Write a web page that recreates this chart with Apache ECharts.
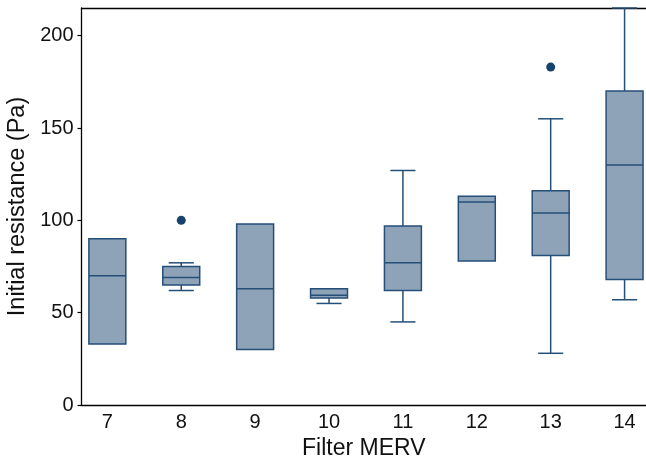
<!DOCTYPE html>
<html>
<head>
<meta charset="utf-8">
<script src="https://cdn.jsdelivr.net/npm/echarts@6/dist/echarts.min.js"></script>
<style>html,body{margin:0;padding:0;background:#fff;}#c{width:646px;height:460px;}</style>
</head>
<body>
<div id="c"></div>
<script>
var categories = [7, 8, 9, 10, 11, 12, 13, 14];
var mins    = [33, 62, 30, 55, 45, 78, 28, 57];
var q1s     = [33, 65, 30, 58, 62, 78, 81, 68];
var medians = [70, 69, 63, 59.5, 77, 110, 104, 130];
var q3s     = [90, 75, 98, 63, 97, 113, 116, 170];
var maxs    = [90, 77, 98, 63, 127, 113, 155, 215];
var outlierX = [8, 13];
var outlierY = [100, 183];
var yTicks = [0, 50, 100, 150, 200];

var boxData = categories.map(function (c, i) {
  return [c, mins[i], q1s[i], medians[i], q3s[i], maxs[i]];
});
var outData = outlierX.map(function (x, i) { return [x, outlierY[i]]; });

var stroke = '#264f78';
var fill = '#8ea3b8';
var font = 'Liberation Sans, Arial, Helvetica, sans-serif';

var chart = echarts.init(document.getElementById('c'));
chart.setOption({
  animation: false,
  grid: { left: 81.5, right: 0, top: 8, bottom: 55, containLabel: false, outerBoundsMode: 'none' },
  xAxis: [{
    type: 'value', min: 6.65, max: 14.29,
    name: 'Filter MERV', nameLocation: 'middle', nameGap: 32,
    nameTextStyle: { fontFamily: font, fontSize: 23, color: '#111' },
    axisLine: { show: true, onZero: false, lineStyle: { color: '#000', width: 1.3 } },
    axisTick: { show: false },
    splitLine: { show: false },
    axisLabel: { customValues: categories, fontFamily: font, fontSize: 20, color: '#111', margin: 7 }
  }, {
    type: 'value', min: 6.65, max: 14.29, position: 'top',
    axisLine: { show: true, onZero: false, lineStyle: { color: '#000', width: 1.3 } },
    axisTick: { show: false }, axisLabel: { show: false }, splitLine: { show: false }
  }],
  yAxis: {
    type: 'value', min: 0, max: 215,
    name: 'Initial resistance (Pa)', nameLocation: 'middle', nameGap: 48,
    nameTextStyle: { fontFamily: font, fontSize: 23.5, color: '#111' },
    axisLine: { show: true, lineStyle: { color: '#000', width: 1.3 } },
    axisTick: { show: true, customValues: yTicks, length: 4, lineStyle: { color: '#000', width: 1.2 } },
    axisLabel: { customValues: yTicks, fontFamily: font, fontSize: 20, color: '#111', margin: 8 },
    splitLine: { show: false }
  },
  series: [{
    type: 'custom',
    data: boxData,
    encode: { x: 0, y: [1, 2, 3, 4, 5] },
    renderItem: function (params, api) {
      var x = api.value(0);
      var pMin = api.coord([x, api.value(1)]);
      var pQ1 = api.coord([x, api.value(2)]);
      var pMed = api.coord([x, api.value(3)]);
      var pQ3 = api.coord([x, api.value(4)]);
      var pMax = api.coord([x, api.value(5)]);
      var bw = api.size([0.5, 0])[0];
      var cw = api.size([0.34, 0])[0];
      var cx = pMed[0];
      var ls = { stroke: stroke, lineWidth: 1.5 };
      var children = [];
      if (Math.abs(pMax[1] - pQ3[1]) > 0.5) {
        children.push({ type: 'line', shape: { x1: cx, y1: pMax[1], x2: cx, y2: pQ3[1] }, style: ls });
        children.push({ type: 'line', shape: { x1: cx - cw / 2, y1: pMax[1], x2: cx + cw / 2, y2: pMax[1] }, style: ls });
      }
      if (Math.abs(pMin[1] - pQ1[1]) > 0.5) {
        children.push({ type: 'line', shape: { x1: cx, y1: pMin[1], x2: cx, y2: pQ1[1] }, style: ls });
        children.push({ type: 'line', shape: { x1: cx - cw / 2, y1: pMin[1], x2: cx + cw / 2, y2: pMin[1] }, style: ls });
      }
      children.push({ type: 'rect', shape: { x: cx - bw / 2, y: pQ3[1], width: bw, height: pQ1[1] - pQ3[1] },
        style: { fill: fill, stroke: stroke, lineWidth: 1.5 } });
      children.push({ type: 'line', shape: { x1: cx - bw / 2, y1: pMed[1], x2: cx + bw / 2, y2: pMed[1] }, style: ls });
      return { type: 'group', children: children };
    }
  }, {
    type: 'scatter',
    data: outData,
    symbolSize: 9,
    itemStyle: { color: '#17426b', opacity: 1 }
  }]
});
</script>
</body>
</html>
